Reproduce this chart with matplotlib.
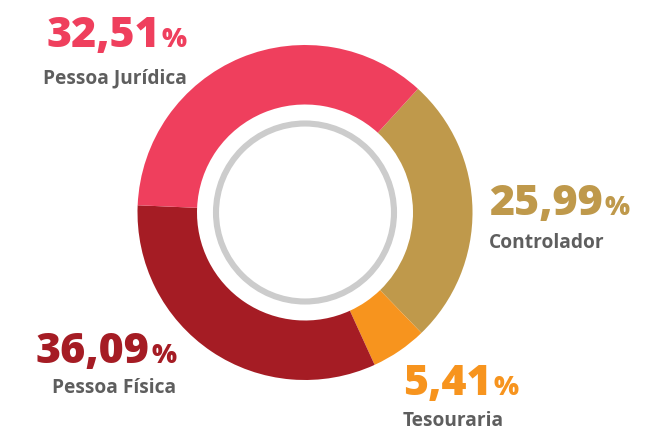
import matplotlib
matplotlib.use("Agg")
import matplotlib.pyplot as plt

# data
categories = ["Controlador", "Tesouraria", "Pessoa Física", "Pessoa Jurídica"]
shares = [25.99, 5.41, 36.09, 32.51]
share_text = ["25,99", "5,41", "36,09", "32,51"]
colors = ["#BF994B", "#F7941E", "#A51C24", "#EF3F5D"]
# the ring in the source draws the red/pink arcs swapped relative to their labels
ring_shares = [25.99, 5.41, 32.51, 36.09]

W, H = 646, 430
FONT = "Open Sans"
GREY = "#5E5E5E"

fig = plt.figure(figsize=(W / 100, H / 100), dpi=100)
ax = fig.add_axes([0, 0, 1, 1])
cx, cy = 305, H - 212.5

ax.pie(ring_shares, colors=colors, startangle=47.6, counterclock=False,
       center=(cx, cy), radius=167.5, wedgeprops=dict(width=59.5, linewidth=0))
ax.add_patch(plt.Circle((cx, cy), 89, fill=False, ec="#CCCCCC", lw=4.4))
ax.set_xlim(0, W); ax.set_ylim(0, H)
ax.set_aspect("equal"); ax.axis("off")

rend = fig.canvas.get_renderer()

# label anchors (x, baseline of number, baseline of name, alignment)
anchors = {
    "Controlador": (489, 215, 248, "left"),
    "Tesouraria": (403, 395, 425.5, "left"),
    "Pessoa Física": (176, 363, 393, "right"),
    "Pessoa Jurídica": (187, 47, 83, "right"),
}

for cat, txt, col in zip(categories, share_text, colors):
    x, yb, yl, ha = anchors[cat]
    kw = dict(color=col, fontweight="heavy", family=FONT, va="baseline")
    if ha == "left":
        t = ax.text(x, H - yb, txt, fontsize=31, ha="left", **kw)
        bb = t.get_window_extent(rend)
        ax.text(bb.x1 + 1.5, H - yb, "%", fontsize=19, ha="left", **kw)
    else:
        p = ax.text(x, H - yb, "%", fontsize=19, ha="right", **kw)
        bb = p.get_window_extent(rend)
        ax.text(bb.x0 - 1.5, H - yb, txt, fontsize=31, ha="right", **kw)
    ax.text(x, H - yl, cat, fontsize=13.8, ha=ha, va="baseline", color=GREY,
            fontweight="bold", family=FONT)

fig.savefig("out.png", dpi=100, facecolor="white")
